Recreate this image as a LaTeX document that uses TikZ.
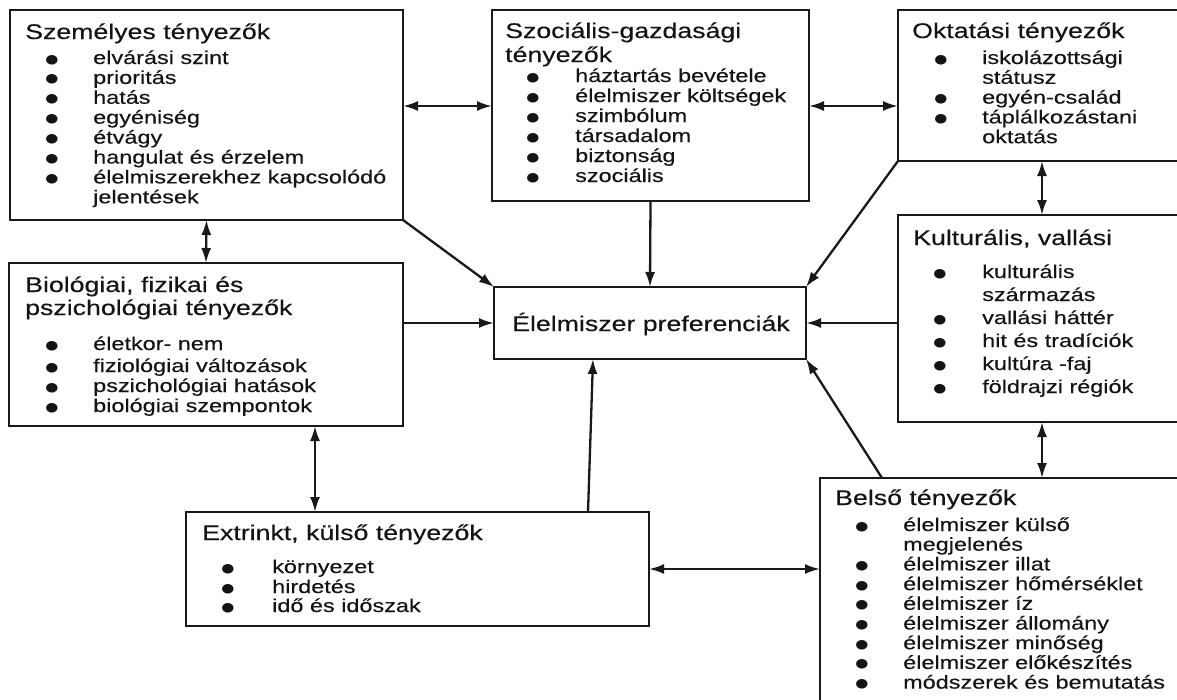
\documentclass[tikz,border=0pt]{standalone}
\usepackage{fontspec}
\setmainfont{Liberation Sans}[FakeStretch=1.26,FakeBold=0.3]
\newfontfamily\bulfont{DejaVu Sans}[FakeStretch=1.2]
\usetikzlibrary{arrows.meta}
\begin{document}
\begin{tikzpicture}[x=1pt,y=-1pt,
  box/.style={draw=black!90, line width=2.8pt, inner sep=0pt, outer sep=0pt, anchor=north west, fill=white},
  ttl/.style={anchor=base west, inner sep=0pt, text=black!92, font=\fontsize{21.2}{24}\selectfont},
  itm/.style={anchor=base west, inner sep=0pt, text=black!92, font=\fontsize{18.6}{20}\selectfont},
  bul/.style={anchor=base, inner sep=0pt, text=black!92, yshift=1pt, font=\bulfont\fontsize{12.5}{13}\selectfont},
  con/.style={line width=2.3pt, draw=black!90, -{Latex[length=15pt,width=10pt]}},
  dbl/.style={line width=2.3pt, draw=black!90, {Latex[length=15pt,width=10pt]}-{Latex[length=15pt,width=10pt]}}]
\useasboundingbox (0,0) rectangle (1177,699);
\fill[white] (0,0) rectangle (1177,699);
\clip (0,0) rectangle (1177,699);

% boxes
\node[box, minimum width=393pt, minimum height=210pt] (pers) at (10,10) {};
\node[box, minimum width=317pt, minimum height=191pt] (soc) at (492,10) {};
\node[box, minimum width=300pt, minimum height=151pt] (edu) at (898,10) {};
\node[box, minimum width=300pt, minimum height=207pt] (cult) at (898,215) {};
\node[box, minimum width=394pt, minimum height=163pt] (bio) at (9,263) {};
\node[box, minimum width=312pt, minimum height=72pt] (pref) at (494,287) {};
\node[box, minimum width=463pt, minimum height=114pt] (ext) at (186,512) {};
\node[box, minimum width=380pt, minimum height=240pt] (inner) at (820,478) {};

% Személyes tényezők
\node[ttl] (persT) at (25,39) {Személyes tényezők};
\foreach \t/\b [count=\i from 0] in {elvárási szint/1, prioritás/1, hatás/1, egyéniség/1, étvágy/1, hangulat és érzelem/1, élelmiszerekhez kapcsolódó/1, jelentések/0}{
  \ifnum\b=1 \node[bul] (persB\i) at (52,64+19.9*\i) {●};\fi
  \node[itm] (persI\i) at (93,64+19.9*\i) {\t};
}

% Szociális-gazdasági tényezők
\node[ttl] (socT1) at (505,38) {Szociális-gazdasági};
\node[ttl] (socT2) at (505,62) {tényezők};
\foreach \t [count=\i from 0] in {háztartás bevétele, élelmiszer költségek, szimbólum, társadalom, biztonság, szociális}{
  \node[bul] (socB\i) at (533,82+20*\i) {●};
  \node[itm] (socI\i) at (575,82+20*\i) {\t};
}

% Oktatási tényezők
\node[ttl] (eduT) at (912,38) {Oktatási tényezők};
\foreach \t/\b [count=\i from 0] in {iskolázottsági/1, státusz/0, egyén-család/1, táplálkozástani/1, oktatás/0}{
  \ifnum\b=1 \node[bul] (eduB\i) at (941,64+19.8*\i) {●};\fi
  \node[itm] (eduI\i) at (982,64+19.8*\i) {\t};
}

% Kulturális, vallási
\node[ttl] (cultT) at (913,245) {Kulturális, vallási};
\foreach \t/\b [count=\i from 0] in {kulturális/1, származás/0, vallási háttér/1, hit és tradíciók/1, kultúra -faj/1, földrajzi régiók/1}{
  \ifnum\b=1 \node[bul] (cultB\i) at (940,278+23*\i) {●};\fi
  \node[itm] (cultI\i) at (982,278+23*\i) {\t};
}

% Biológiai
\node[ttl] (bioT1) at (25,292) {Biológiai, fizikai és};
\node[ttl] (bioT2) at (25,315) {pszichológiai tényezők};
\foreach \t/\y [count=\i from 0] in {életkor- nem/350, fiziológiai változások/372, pszichológiai hatások/392, biológiai szempontok/412}{
  \node[bul] (bioB\i) at (52,\y) {●};
  \node[itm] (bioI\i) at (93,\y) {\t};
}

% Élelmiszer preferenciák
\node[ttl, anchor=base] (prefT) at (651,331) {Élelmiszer preferenciák};

% Extrinkt
\node[ttl] (extT) at (202,540) {Extrinkt, külső tényezők};
\foreach \t/\y [count=\i from 0] in {környezet/573, hirdetés/593, idő és időszak/612}{
  \node[bul] (extB\i) at (228,\y) {●};
  \node[itm] (extI\i) at (272,\y) {\t};
}

% Belső tényezők
\node[ttl] (innT) at (835,505) {Belső tényezők};
\foreach \t/\b [count=\i from 0] in {élelmiszer külső/1, megjelenés/0, élelmiszer illat/1, élelmiszer hőmérséklet/1, élelmiszer íz/1, élelmiszer állomány/1, élelmiszer minőség/1, élelmiszer előkészítés/1, módszerek és bemutatás/1}{
  \ifnum\b=1 \node[bul] (innB\i) at (862,531+19.7*\i) {●};\fi
  \node[itm] (innI\i) at (903,531+19.7*\i) {\t};
}

% connectors
\coordinate (h1) at (0,106);
\coordinate (h3) at (0,569);
\coordinate (v1) at (1042,0);
\coordinate (v2) at (315,0);
\coordinate (v3) at (588,0);
\coordinate (v4) at (593,0);
\coordinate (v5) at (882,0);
\draw[dbl] (pers.east |- h1) -- (soc.west |- h1);
\draw[dbl] (soc.east |- h1) -- (edu.west |- h1);
\draw[dbl] (pers.south) -- (bio.north);
\draw[con] (pers.south east) -- (pref.north west);
\draw[con] (soc.south) -- (pref.north);
\draw[con] (edu.south west) -- (pref.north east);
\draw[dbl] (edu.south -| v1) -- (cult.north -| v1);
\draw[dbl] (cult.south -| v1) -- (inner.north -| v1);
\draw[con] (bio.east |- pref.west) -- (pref.west);
\draw[con] (cult.west |- pref.east) -- (pref.east);
\draw[dbl] (bio.south -| v2) -- (ext.north -| v2);
\draw[con] (ext.north -| v3) -- (pref.south -| v4);
\draw[dbl] (ext.east |- h3) -- (inner.west |- h3);
\draw[con] (inner.north -| v5) -- (pref.south east);
\end{tikzpicture}
\end{document}
